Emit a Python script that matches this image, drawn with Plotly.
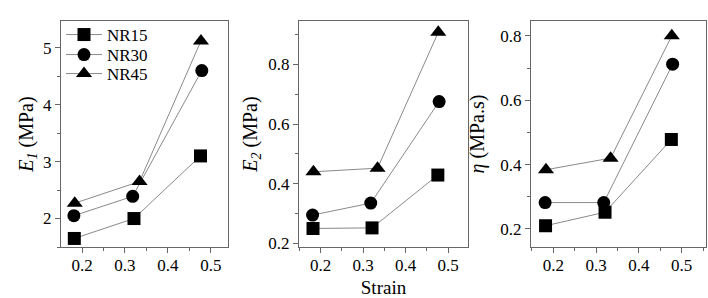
import plotly.graph_objects as go

series = ["NR15", "NR30", "NR45"]
symbols = ["square", "circle", "triangle-up"]
strain = {
    "NR15": [0.182, 0.321, 0.476],
    "NR30": [0.181, 0.318, 0.479],
    "NR45": [0.183, 0.334, 0.477],
}
E1 = {"NR15": [1.65, 2.00, 3.10], "NR30": [2.05, 2.39, 4.60], "NR45": [2.27, 2.65, 5.12]}
E2 = {"NR15": [0.250, 0.252, 0.429], "NR30": [0.295, 0.335, 0.675], "NR45": [0.440, 0.452, 0.907]}
eta = {"NR15": [0.210, 0.252, 0.478], "NR30": [0.282, 0.282, 0.712], "NR45": [0.384, 0.420, 0.800]}

panels = [E1, E2, eta]
ytitles = ["<i>E</i><sub><i>1</i></sub> (MPa)", "<i>E</i><sub><i>2</i></sub> (MPa)", "<i>η</i> (MPa.s)"]
xranges = [[0.151, 0.540], [0.149, 0.547], [0.148, 0.557]]
yranges = [[1.50, 5.47], [0.188, 0.945], [0.144, 0.846]]
ydticks = [1, 0.2, 0.2]
xdomains = [[61/708, 228/708], [299/708, 468/708], [531/708, 706/708]]
ydomain = [1 - 247/298, 1 - 21/298]
ystandoffs = [4, 5, 10]

FONT = "Liberation Serif"
AXC = "#666666"
LINEC = "#8a8a8a"
legend_names = ["legend", "legend2", "legend3"]
legend_tops = [17, 37, 56]

fig = go.Figure()
for p, data in enumerate(panels):
    xa = "x" if p == 0 else f"x{p+1}"
    ya = "y" if p == 0 else f"y{p+1}"
    for i, (s, sym) in enumerate(zip(series, symbols)):
        fig.add_trace(go.Scatter(
            x=strain[s], y=data[s], mode="lines+markers", name=s,
            xaxis=xa, yaxis=ya, showlegend=(p == 0), legend=legend_names[i],
            line=dict(color=LINEC, width=1),
            marker=dict(symbol=sym, size=13 if sym != "triangle-up" else 14, color="black"),
        ))

layout = dict(
    width=708, height=298,
    margin=dict(l=0, r=0, t=0, b=0),
    paper_bgcolor="white", plot_bgcolor="white",
    font=dict(family=FONT, size=16, color="black"),
    showlegend=True,
)
for i, ln in enumerate(legend_names):
    layout[ln] = dict(x=61/708, y=1 - legend_tops[i]/298, xanchor="left", yanchor="top",
                      bgcolor="rgba(0,0,0,0)", font=dict(size=17, family=FONT),
                      tracegroupgap=0, itemwidth=36)
for p in range(3):
    sx = "" if p == 0 else str(p + 1)
    layout[f"xaxis{sx}"] = dict(
        domain=xdomains[p], range=xranges[p], anchor=f"y{sx}",
        dtick=0.1, tick0=0.2, ticks="outside", ticklen=5, tickcolor=AXC,
        showline=True, linecolor=AXC, linewidth=1, mirror=True,
        showgrid=False, zeroline=False, automargin=False,
        tickfont=dict(size=17, family=FONT), ticklabelstandoff=-2,
        minor=dict(dtick=0.05, tick0=0.2, ticks="outside", ticklen=3, tickcolor=AXC, showgrid=False),
        title=dict(text="Strain" if p == 1 else "", font=dict(size=19, family=FONT), standoff=7),
    )
    layout[f"yaxis{sx}"] = dict(
        domain=ydomain, range=yranges[p], anchor=f"x{sx}",
        dtick=ydticks[p], tick0=0, ticks="outside", ticklen=5, tickcolor=AXC,
        showline=True, linecolor=AXC, linewidth=1, mirror=True,
        showgrid=False, zeroline=False, automargin=False,
        tickfont=dict(size=17, family=FONT),
        minor=dict(dtick=ydticks[p] / 2, tick0=0, ticks="outside", ticklen=3, tickcolor=AXC, showgrid=False),
        title=dict(text=ytitles[p], font=dict(size=20, family=FONT), standoff=ystandoffs[p]),
    )
fig.update_layout(**layout)
fig.write_html("out.html", config={"displayModeBar": False},
               post_script="document.body.style.margin='0';")
